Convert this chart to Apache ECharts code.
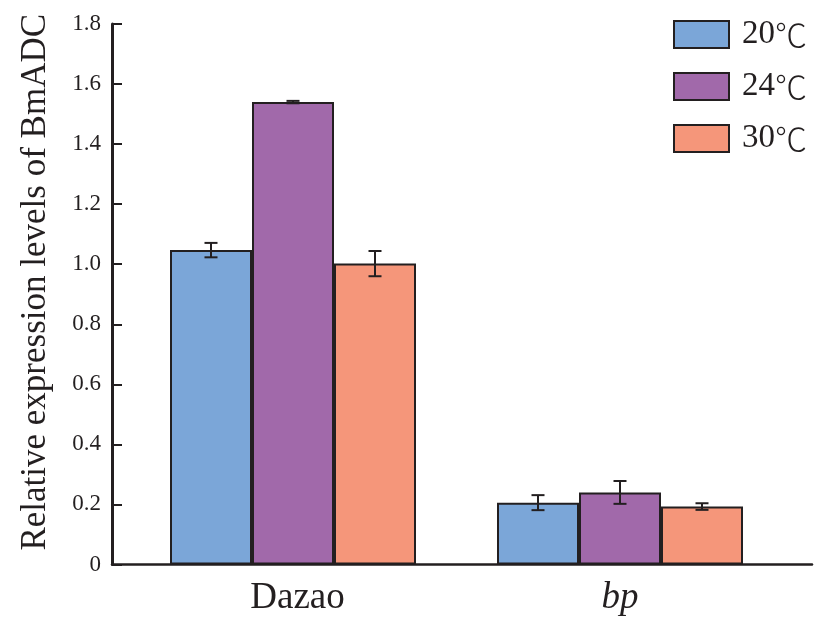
<!DOCTYPE html>
<html>
<head>
<meta charset="utf-8">
<script src="https://cdn.jsdelivr.net/npm/echarts@6/dist/echarts.min.js"></script>
<style>
  html, body { margin: 0; padding: 0; background: #fff; }
  #chart { width: 827px; height: 630px; }
</style>
</head>
<body>
<div id="chart"></div>
<script>
// Relative expression of BmADC in two strains at three rearing temperatures
var categories = ['Dazao', 'bp'];
var seriesNames = ['20℃', '24℃', '30℃'];
var values20 = [1.047, 0.206];
var values24 = [1.540, 0.240];
var values30 = [1.002, 0.193];
var errors20 = [0.024, 0.025];
var errors24 = [0.004, 0.038];
var errors30 = [0.042, 0.011];
var yTicks = [0, 0.2, 0.4, 0.6, 0.8, 1.0, 1.2, 1.4, 1.6, 1.8];

var colors = ['#7ba6d8', '#a169aa', '#f5967a'];
var serif = '"Liberation Serif", "Times New Roman", serif';
var cjk = '"Noto Sans CJK SC", "Liberation Serif", serif';
var ink = '#231f20';
var BAR_W = 82;

var allValues = [values20, values24, values30];
var allErrors = [errors20, errors24, errors30];

function fmtTick(v) {
  if (v === 0) return '0';
  return v.toFixed(1);
}

var series = [];
seriesNames.forEach(function (name, i) {
  series.push({
    name: name,
    type: 'bar',
    xAxisIndex: 1,
    yAxisIndex: 1,
    data: allValues[i],
    barWidth: BAR_W,
    barGap: '0%',
    itemStyle: { color: colors[i], borderColor: ink, borderWidth: 2 },
    emphasis: { disabled: true },
    z: 2
  });
});

// error bars: one custom series per temperature, offset to sit on its bar
seriesNames.forEach(function (name, i) {
  var data = categories.map(function (c, k) {
    return [k, allValues[i][k], allErrors[i][k]];
  });
  series.push({
    type: 'custom',
    xAxisIndex: 1,
    yAxisIndex: 1,
    z: 5,
    silent: true,
    data: data,
    renderItem: function (params, api) {
      var k = api.value(0);
      var v = api.value(1);
      var e = api.value(2);
      var top = api.coord([k, v + e]);
      var bot = api.coord([k, v - e]);
      var x = top[0] + (i - 1) * BAR_W;
      var hw = 6.5;
      var st = { stroke: ink, lineWidth: 2 };
      return {
        type: 'group',
        children: [
          { type: 'line', shape: { x1: x, y1: top[1], x2: x, y2: bot[1] }, style: st },
          { type: 'line', shape: { x1: x - hw, y1: top[1], x2: x + hw, y2: top[1] }, style: st },
          { type: 'line', shape: { x1: x - hw, y1: bot[1], x2: x + hw, y2: bot[1] }, style: st }
        ]
      };
    }
  });
});

var chart = echarts.init(document.getElementById('chart'), null, { renderer: 'canvas' });
chart.setOption({
  animation: false,
  backgroundColor: '#ffffff',
  textStyle: { fontFamily: serif, color: ink },
  legend: {
    data: seriesNames,
    orient: 'vertical',
    left: 668,
    top: 13,
    padding: 5,
    itemWidth: 55,
    itemHeight: 27,
    itemGap: 19,
    icon: 'rect',
    selectedMode: false,
    formatter: function (name) {
      return '{n|' + name.replace('℃', '') + '}{c|℃}';
    },
    textStyle: {
      padding: [0, 0, 0, 8],
      rich: {
        n: { fontFamily: serif, fontSize: 33, color: ink, lineHeight: 37 },
        c: { fontFamily: cjk, fontSize: 32, fontWeight: 300, color: ink, lineHeight: 37 }
      }
    }
  },
  grid: [
    { left: 112, right: 15, top: 24, bottom: 65.5, outerBoundsMode: 'none' },
    { left: 129.5, right: 43.5, top: 24, bottom: 65.5, outerBoundsMode: 'none' }
  ],
  xAxis: [
    {
      gridIndex: 0, type: 'value', min: 0, max: 1,
      axisLine: { show: true, onZero: false, lineStyle: { color: ink, width: 2.5 } },
      axisTick: { show: false }, axisLabel: { show: false }, splitLine: { show: false }
    },
    {
      gridIndex: 1, type: 'category', data: categories,
      axisLine: { show: false }, axisTick: { show: false }, splitLine: { show: false },
      axisLabel: {
        margin: 15,
        fontFamily: serif,
        fontSize: 37,
        color: ink,
        formatter: function (v) { return v === 'bp' ? '{it|bp}' : '{up|' + v + '}'; },
        rich: {
          it: { fontFamily: serif, fontStyle: 'italic', fontSize: 37, color: ink },
          up: { fontFamily: serif, fontSize: 37, color: ink, padding: [0, 0, 0, 9] }
        }
      }
    }
  ],
  yAxis: [
    {
      gridIndex: 0, type: 'value', min: 0, max: 1.8, interval: 0.2,
      name: 'Relative expression levels of BmADC',
      nameLocation: 'middle',
      nameRotate: 90,
      nameGap: 59,
      nameTextStyle: { fontFamily: serif, fontSize: 35, color: ink, padding: [0, 0, 0, 24] },
      axisLine: { show: true, onZero: false, lineStyle: { color: ink, width: 3 } },
      axisTick: { show: true, inside: true, length: 10, lineStyle: { color: ink, width: 2 } },
      axisLabel: {
        margin: 11, fontFamily: serif, fontSize: 23, color: ink,
        formatter: function (v) {
          var t = yTicks.find(function (y) { return Math.abs(y - v) < 1e-6; });
          return t === undefined ? '' : fmtTick(t);
        }
      },
      splitLine: { show: false }
    },
    {
      gridIndex: 1, type: 'value', min: 0, max: 1.8, interval: 0.2,
      show: false, splitLine: { show: false }
    }
  ],
  series: series
});
</script>
</body>
</html>
